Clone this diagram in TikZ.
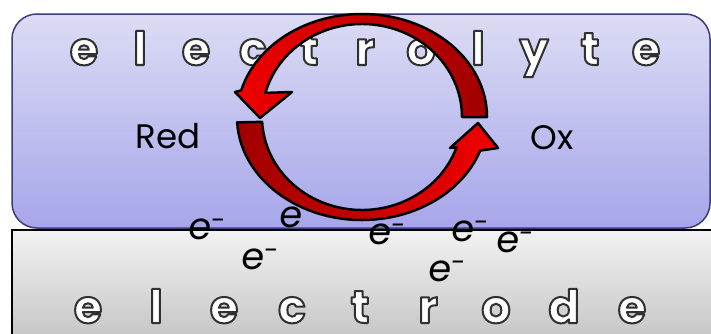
\documentclass[tikz,border=0pt]{standalone}
\usepackage{fontspec}
\setmainfont{Poppins}
\newfontfamily\elfont{Poppins}[FakeSlant=0.12]
\definecolor{lytetop}{HTML}{DCDCF5}
\definecolor{lytebot}{HTML}{A6A6EA}
\definecolor{lyteline}{HTML}{3C3C78}
\definecolor{rodetop}{HTML}{F2F2F2}
\definecolor{rodebot}{HTML}{C4C4C4}
\definecolor{arrbright}{HTML}{F00000}
\definecolor{arrdark}{HTML}{A00000}
% white letter with a dark rim (fill + stroke render mode)
\newcommand\hollowchar[1]{\color{white}\special{pdf:literal direct 2 Tr 2 w 0.19 G 1 j}#1\special{pdf:literal direct 0 Tr}}
\tikzset{
  hollow/.style={font=\fontsize{46}{50}\selectfont\bfseries, anchor=base, inner sep=0pt},
  species/.style={font=\fontsize{34}{38}\selectfont, anchor=base, inner sep=0pt},
  electron/.style={font=\elfont\fontsize{37}{40}\selectfont, anchor=base west, inner sep=0pt},
  ring/.style={draw=black, line width=2.5pt, line join=round},
}
\begin{document}
\begin{tikzpicture}[x=1pt,y=1pt]
\clip (0,0) rectangle (711,333);
% electrolyte and electrode
\draw[lyteline, line width=1.5pt, rounded corners=25pt, top color=lytetop, bottom color=lytebot] (12,105) rectangle (710,319);
\draw[black, line width=1.5pt, top color=rodetop, bottom color=rodebot] (12,-10) rectangle (725,103);

\foreach \l/\x [count=\i] in {e/84,l/140,e/196,c/253,t/309,r/365,o/421,l/478,y/534,t/590,e/646}
{
    \node[hollow] (lyte\i) at (\x,268) {\hollowchar{\l}};
}
\foreach \l/\x [count=\i] in {e/88,l/156,e/224,c/292,t/360,r/428,o/496,d/564,e/632}
{
    \node[hollow] (rode\i) at (\x,10) {\hollowchar{\l}};
}

\node[species] (red) at (168,185) {Red};
\node[species] (ox) at (552,184) {Ox};

% electrons
\foreach \x/\y [count=\i] in {187/94, 240/64, 367/89, 450/92, 495/81, 427/52}
{
    \node[electron] (el\i) at (\x,\y) {e\textsuperscript{-}};
}
\node[electron] (el7) at (278,106) {e};

% redox cycle
\coordinate (c) at (362,216);
\path[ring, left color=arrbright, right color=arrdark]
  ([shift={(c)}]0:125 and 103) arc[start angle=0, end angle=165, x radius=125, y radius=103]
  -- (235,241) -- (260,215) -- (292,241)
  -- ([shift={(c)}]165:100 and 93) arc[start angle=165, end angle=0, x radius=100, y radius=93]
  -- cycle;
\path[ring, left color=arrdark, right color=arrbright]
  ([shift={(c)}]183:125 and 103) arc[start angle=183, end angle=341, x radius=125, y radius=103]
  -- (498,185) -- (478,210) -- (450,185)
  -- ([shift={(c)}]341:100 and 93) arc[start angle=341, end angle=183, x radius=100, y radius=93]
  -- cycle;
\end{tikzpicture}
\end{document}
